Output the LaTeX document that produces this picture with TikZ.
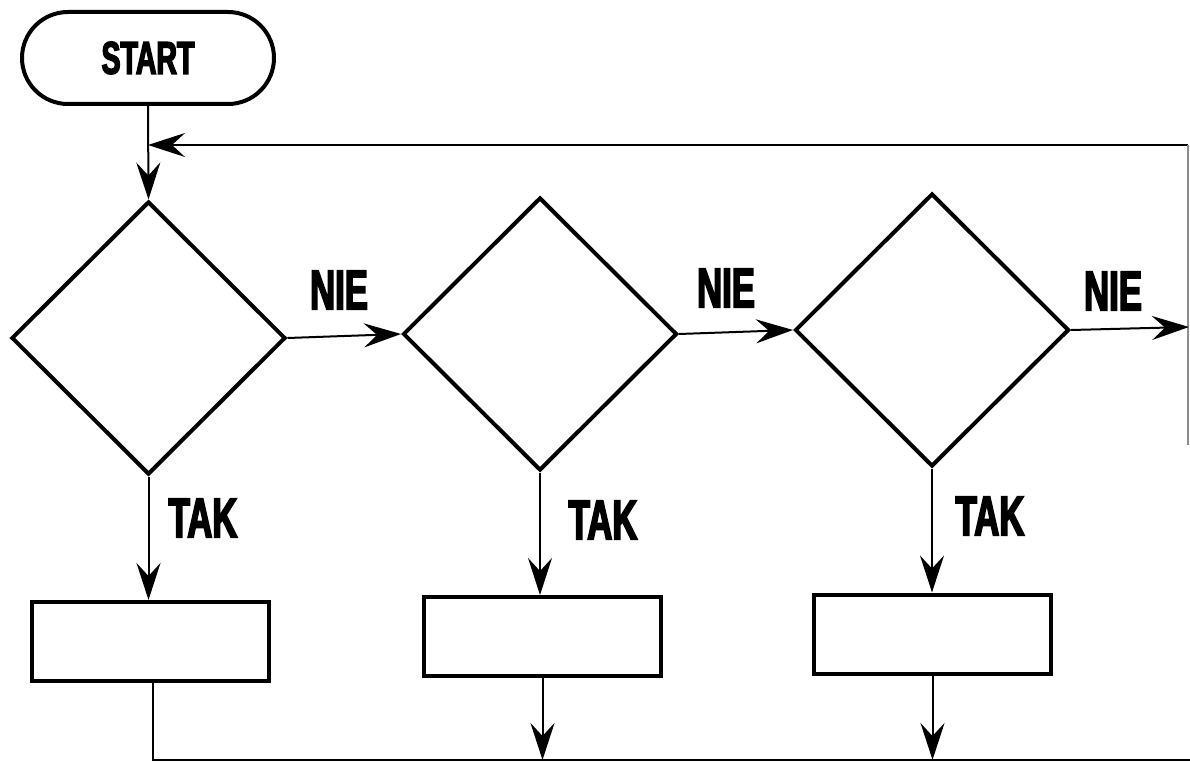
\documentclass[tikz,border=0pt]{standalone}
\usepackage{fontspec}
\setmainfont{Liberation Sans}[FakeStretch=0.62,FakeBold=3]
\usetikzlibrary{shapes.geometric,shapes.misc,arrows.meta}
\begin{document}
\begin{tikzpicture}[x=1pt,y=-1pt,
  arr/.style={line width=2pt,-{Stealth[length=37pt,width=24pt,inset=13pt]}},
  conn/.style={line width=2pt},
  term/.style={rounded rectangle,draw,line width=4pt,minimum width=252pt,minimum height=92pt,inner sep=0pt,font=\fontsize{46}{46}\selectfont\bfseries},
  dec/.style={diamond,draw,line width=4pt,minimum width=274pt,minimum height=273pt,inner sep=0pt,aspect=1},
  boxx/.style={rectangle,draw,line width=4pt,minimum width=237pt,minimum height=79pt,inner sep=0pt},
  lbl/.style={inner sep=0pt,font=\fontsize{56}{56}\selectfont\bfseries}]
\useasboundingbox[fill=white] (0,0) rectangle (1190,762);
\node[term] (start) at (148,58) {START};
\node[dec] (d1) at (148.5,338) {};
\node[dec] (d2) at (540,334) {};
\node[dec] (d3) at (932,330) {};
\node[boxx] (b1) at (150.5,641.5) {};
\node[boxx] (b2) at (542.5,636.5) {};
\node[boxx] (b3) at (932.5,634) {};
\node[lbl] (n1) at (339,290) {NIE};
\node[lbl] (n2) at (726,288) {NIE};
\node[lbl] (n3) at (1113,291) {NIE};
\node[lbl] (t1) at (203,518) {TAK};
\node[lbl] (t2) at (603,520) {TAK};
\node[lbl] (t3) at (990,516) {TAK};
\coordinate (tr) at (1188,145);
\coordinate (trd) at (1188,445);
\coordinate (out) at (1189,327);
\coordinate (bl) at (153,760);
\coordinate (br) at (1190,760);
\draw[arr] (start.south) -- (d1.north);
\draw[arr] (tr) -- (start.south |- tr);
\draw[line width=2pt,black!45] (tr) -- (trd);
\draw[arr] (d1.east) -- (d2.west);
\draw[arr] (d2.east) -- (d3.west);
\draw[arr] (d3.east) -- (out);
\draw[arr] (d1.south) -- (d1.south |- b1.north);
\draw[arr] (d2.south) -- (d2.south |- b2.north);
\draw[arr] (d3.south) -- (d3.south |- b3.north);
\draw[conn] (bl |- b1.south) -- (bl) -- (br);
\draw[arr] (b2.south) -- (b2.south |- bl);
\draw[arr] (b3.south) -- (b3.south |- bl);
\end{tikzpicture}
\end{document}
